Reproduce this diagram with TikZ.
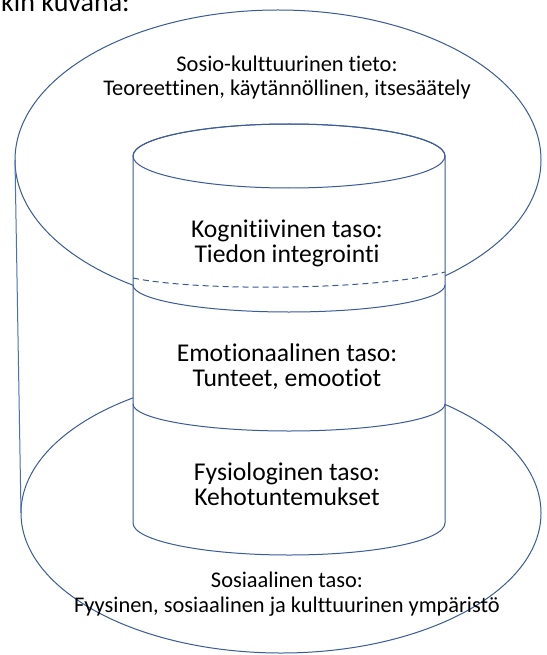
\documentclass[tikz,border=0pt]{standalone}
\usepackage{fontspec}
\setmainfont{Carlito}[Ligatures={NoCommon}]
\definecolor{edge}{HTML}{3A5A98}
\definecolor{sideedge}{HTML}{4A6FC0}
\begin{document}
\begin{tikzpicture}[x=1pt,y=-1pt,
  outline/.style={draw=edge, line width=1pt},
  sideline/.style={draw=sideedge, line width=1pt},
  hidden/.style={draw=edge, line width=1pt, dash pattern=on 6pt off 4pt},
  outertext/.style={font=\fontsize{22.4}{25}\selectfont, anchor=base, inner sep=0pt},
  innertext/.style={font=\fontsize{25.6}{28}\selectfont, anchor=base, inner sep=0pt},
]
\useasboundingbox (0,0) rectangle (546,655);
\clip (0,0) rectangle (546,655);
\fill[white] (0,0) rectangle (546,655);

% heading line, cut by the top edge
\node[font=\fontsize{28}{30}\selectfont, anchor=base west, inner sep=0pt] (heading) at (1,12) {kin kuvana:};

% outer cylinder: social level at the base, socio-cultural knowledge on top
\draw[outline] (281,513) ellipse[x radius=260pt, y radius=140pt];
\draw[outline] (278,160) ellipse[x radius=263pt, y radius=150pt];
\coordinate (topleft) at (15,160);
\coordinate (baseleft) at (21,513);
\draw[sideline] (topleft) -- (baseleft);

% inner cylinder, drawn over the outer one
\filldraw[outline, fill=white] (133,156) -- (133,523)
  arc[start angle=180, end angle=360, x radius=156pt, y radius=32pt]
  -- (445,156)
  arc[start angle=0, end angle=180, x radius=156pt, y radius=32pt] -- cycle;
\draw[outline] (289,156) ellipse[x radius=156pt, y radius=32pt];

% hidden part of the upper outer ellipse
\coordinate (hidl) at (133,278);
\coordinate (hidr) at (445,272);
\draw[hidden] (hidl) .. controls (200,292) and (380,290) .. (hidr);

% level boundaries inside the inner cylinder
\draw[outline] (133,285) arc[start angle=180, end angle=360, x radius=156pt, y radius=27pt];
\draw[outline] (133,404) arc[start angle=180, end angle=360, x radius=156pt, y radius=27pt];

% labels
\node[outertext] (sosio1) at (287,72) {Sosio-kulttuurinen tieto:};
\node[outertext] (sosio2) at (287,96) {Teoreettinen, käytännöllinen, itsesäätely};
\node[innertext] (kog1) at (287,237) {Kognitiivinen taso:};
\node[innertext] (kog2) at (287,262) {Tiedon integrointi};
\node[innertext] (emo1) at (287,361) {Emotionaalinen taso:};
\node[innertext] (emo2) at (287,386) {Tunteet, emootiot};
\node[innertext] (fys1) at (287,480) {Fysiologinen taso:};
\node[innertext] (fys2) at (287,505) {Kehotuntemukset};
\node[outertext] (sos1) at (287,587) {Sosiaalinen taso:};
\node[outertext] (sos2) at (287,612) {Fyysinen, sosiaalinen ja kulttuurinen ympäristö};
\end{tikzpicture}
\end{document}
